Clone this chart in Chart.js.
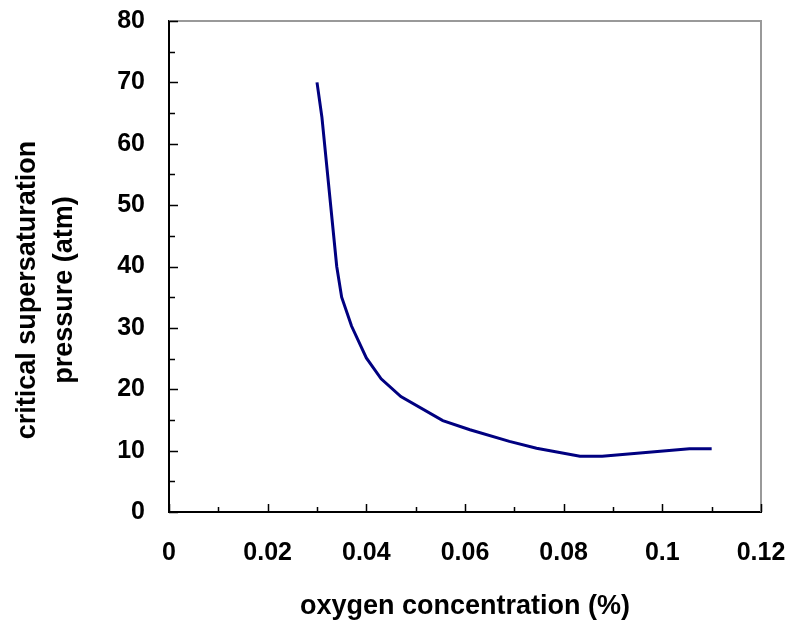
<!DOCTYPE html>
<html lang="en">
    <head>
        <meta charset="UTF-8" />
        <title>Critical supersaturation pressure</title>
        <script src="https://cdn.jsdelivr.net/npm/chart.js@4.4.0/dist/chart.umd.min.js"></script>
        <style>
            html, body { margin: 0; padding: 0; background: #fff; }
            #wrap { width: 790px; height: 623px; }
        </style>
    </head>
    <body>
        <div id="wrap"><canvas id="chart" width="790" height="623"></canvas></div>
        <script>
        // values
        const oxygen = [0.030, 0.031, 0.034, 0.035, 0.037, 0.040, 0.043, 0.047, 0.0555, 0.061, 0.069, 0.0745, 0.0833, 0.0878, 0.1055, 0.110];
        const pressure = [70, 64.3, 40, 35, 30.3, 25.1, 21.7, 18.8, 14.9, 13.4, 11.5, 10.4, 9.1, 9.1, 10.3, 10.3];
        const xTickLabels = ['0', '0.02', '0.04', '0.06', '0.08', '0.1', '0.12'];
        const yTickLabels = ['0', '10', '20', '30', '40', '50', '60', '70', '80'];
        const xTitle = 'oxygen concentration (%)';
        const yTitle = ['critical supersaturation', 'pressure (atm)'];

        const fontFamily = '"Liberation Sans", Arial, sans-serif';

        // no extra room for the end labels, the layout padding below sets the plot box
        function noPad(s) {
            s.paddingTop = 0;
            s.paddingBottom = 0;
            s.paddingLeft = 0;
            s.paddingRight = 0;
        }

        // inward tick marks, minor ticks, grey top/right frame, y title
        const framePlugin = {
            id: 'frame',
            afterDraw(chart) {
                const ctx = chart.ctx;
                const a = chart.chartArea;
                const xs = chart.scales.x, ys = chart.scales.y;
                ctx.save();
                ctx.strokeStyle = '#999';
                ctx.lineWidth = 2;
                ctx.beginPath();
                ctx.moveTo(a.left, a.top);
                ctx.lineTo(a.right, a.top);
                ctx.lineTo(a.right, a.bottom);
                ctx.stroke();

                ctx.strokeStyle = '#000';
                ctx.lineWidth = 1.5;
                ctx.beginPath();
                for (let i = 0; i <= 16; i++) {
                    const py = Math.round(ys.getPixelForValue(i * 5)) + 0.5;
                    const len = i % 2 === 0 ? 9 : 6;
                    ctx.moveTo(a.left, py);
                    ctx.lineTo(a.left + len, py);
                }
                for (let i = 0; i <= 12; i++) {
                    const px = Math.round(xs.getPixelForValue(i * 0.01)) + 0.5;
                    const len = i % 2 === 0 ? 8 : 5;
                    ctx.moveTo(px, a.bottom);
                    ctx.lineTo(px, a.bottom - len);
                }
                ctx.stroke();

                ctx.fillStyle = '#000';
                ctx.font = 'bold 27px ' + fontFamily;
                ctx.textAlign = 'center';
                ctx.textBaseline = 'alphabetic';
                const spots = [[35, 290], [72, 290]];
                yTitle.forEach((t, i) => {
                    ctx.save();
                    ctx.translate(spots[i][0], spots[i][1]);
                    ctx.rotate(-Math.PI / 2);
                    ctx.fillText(t, 0, 0);
                    ctx.restore();
                });
                ctx.restore();
            }
        };

        const ctx = document.getElementById('chart').getContext('2d');
        const myChart = new Chart(ctx, {
            type: 'scatter',
            data: {
                datasets: [{
                    data: oxygen.map((x, i) => ({ x: x, y: pressure[i] })),
                    showLine: true,
                    borderColor: '#000080',
                    borderWidth: 3,
                    pointRadius: 0,
                    tension: 0,
                    fill: false
                }]
            },
            options: {
                responsive: false,
                animation: false,
                layout: { padding: { top: 21, right: 29, left: 0, bottom: 0 } },
                plugins: { legend: { display: false }, tooltip: { enabled: false } },
                scales: {
                    x: {
                        type: 'linear',
                        min: 0,
                        max: 0.12,
                        afterBuildTicks: s => { s.ticks = xTickLabels.map(t => ({ value: parseFloat(t) })); },
                        afterFit: s => { s.height = 111; noPad(s); },
                        grid: { display: false, drawTicks: false },
                        border: { color: '#000', width: 2 },
                        ticks: {
                            padding: 26,
                            color: '#000',
                            maxRotation: 0,
                            font: { family: fontFamily, size: 25, weight: 'bold' },
                            callback: (v, i) => xTickLabels[i]
                        },
                        title: {
                            display: true,
                            text: xTitle,
                            color: '#000',
                            font: { family: fontFamily, size: 27, weight: 'bold' },
                            padding: { top: 0, bottom: 0 }
                        }
                    },
                    y: {
                        min: 0,
                        max: 80,
                        afterBuildTicks: s => { s.ticks = yTickLabels.map(t => ({ value: parseFloat(t) })); },
                        afterFit: s => { s.width = 169; noPad(s); },
                        grid: { display: false, drawTicks: false },
                        border: { color: '#000', width: 2 },
                        ticks: {
                            padding: 24,
                            color: '#000',
                            font: { family: fontFamily, size: 25, weight: 'bold' },
                            callback: (v, i) => yTickLabels[i]
                        }
                    }
                }
            },
            plugins: [framePlugin]
        });
        </script>
    </body>
</html>
